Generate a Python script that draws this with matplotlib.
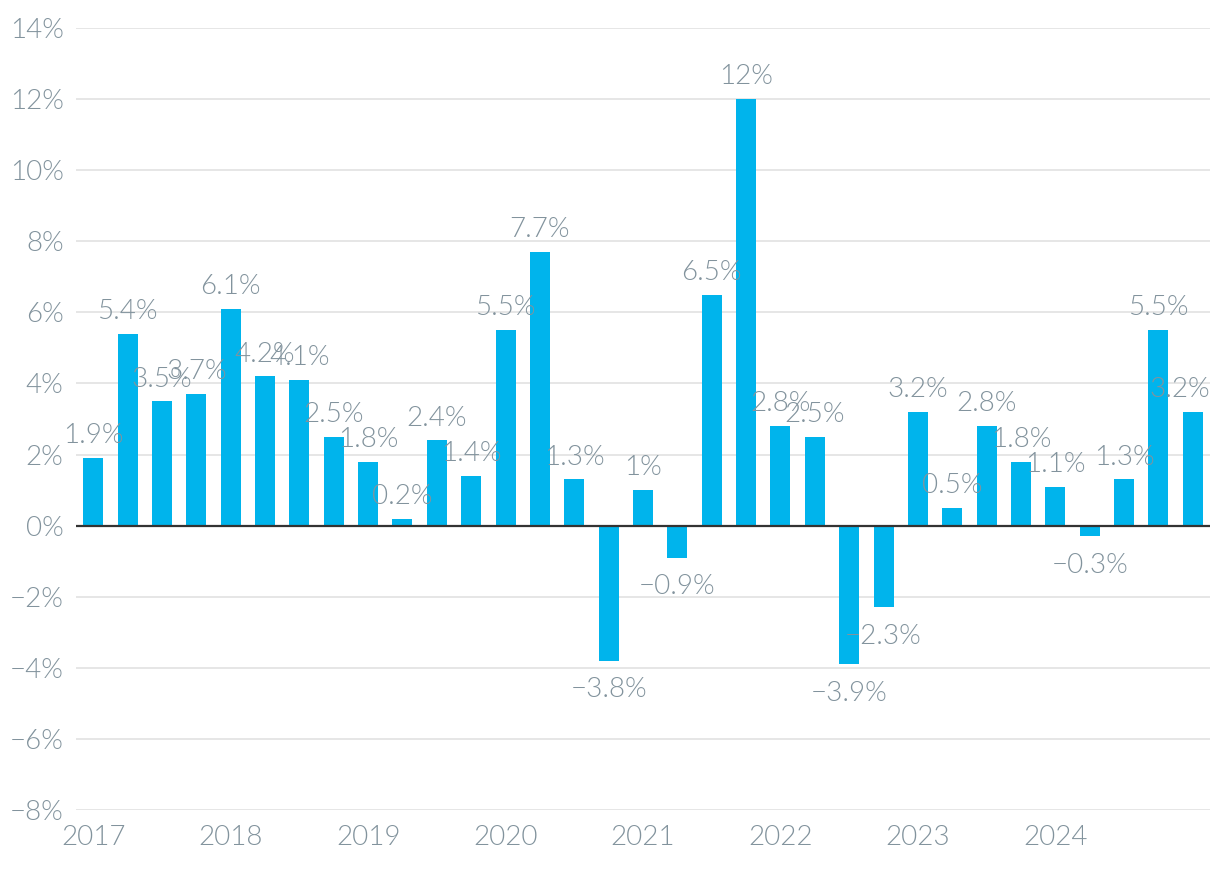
import numpy as np
import matplotlib.pyplot as plt

# Quarterly growth, 2017 Q1 .. 2025 Q1
values = [1.9, 5.4, 3.5, 3.7, 6.1, 4.2, 4.1, 2.5, 1.8, 0.2, 2.4, 1.4,
          5.5, 7.7, 1.3, -3.8, 1.0, -0.9, 6.5, 12.0, 2.8, 2.5, -3.9, -2.3,
          3.2, 0.5, 2.8, 1.8, 1.1, -0.3, 1.3, 5.5, 3.2]
years = ['2017', '2018', '2019', '2020', '2021', '2022', '2023', '2024']
y_ticks = [-8, -6, -4, -2, 0, 2, 4, 6, 8, 10, 12, 14]

text_color = '#82939d'
bar_color = '#00b4ec'

plt.rcParams['font.family'] = ['Lato', 'DejaVu Sans']
plt.rcParams['font.weight'] = 300

fig = plt.figure(figsize=(12.2, 8.72), dpi=100)
ax = fig.add_axes([0.0623, 0.0711, 0.9295, 0.8968])

x = np.arange(len(values))
ax.bar(x, values, width=0.58, color=bar_color, zorder=3)

def fmt(v):
    s = f'{v:g}%'
    return s.replace('-', '\u2212')

x_right = len(values) - 0.5
for xi, v in zip(x, values):
    ha, xpos = 'center', xi
    if xi == len(values) - 1:
        # keep the last label inside the plot area
        ha, xpos = 'right', x_right
    if v >= 0:
        ax.annotate(fmt(v), (xpos, v), xytext=(0, 7), textcoords='offset points',
                    ha=ha, va='bottom', fontsize=20, color=text_color,
                    fontweight=300, zorder=5)
    else:
        ax.annotate(fmt(v), (xpos, v), xytext=(0, -12), textcoords='offset points',
                    ha=ha, va='top', fontsize=20, color=text_color,
                    fontweight=300, zorder=5)

ax.set_xlim(-0.5, x_right)
ax.set_ylim(-8, 14)
ax.set_yticks(y_ticks)
ax.set_yticklabels([fmt(t) for t in y_ticks])
ax.set_xticks(np.arange(0, 4 * len(years), 4))
ax.set_xticklabels(years)

ax.grid(axis='y', color='#e4e4e4', linewidth=1.3, zorder=0)
ax.axhline(0, color='#333333', linewidth=1.6, zorder=4)
for s in ax.spines.values():
    s.set_visible(False)
ax.tick_params(axis='both', length=0, labelsize=20, colors=text_color)
ax.tick_params(axis='y', pad=9)
ax.tick_params(axis='x', pad=11)
for lbl in ax.get_xticklabels() + ax.get_yticklabels():
    lbl.set_fontweight(300)

fig.savefig('out.png', dpi=100)
